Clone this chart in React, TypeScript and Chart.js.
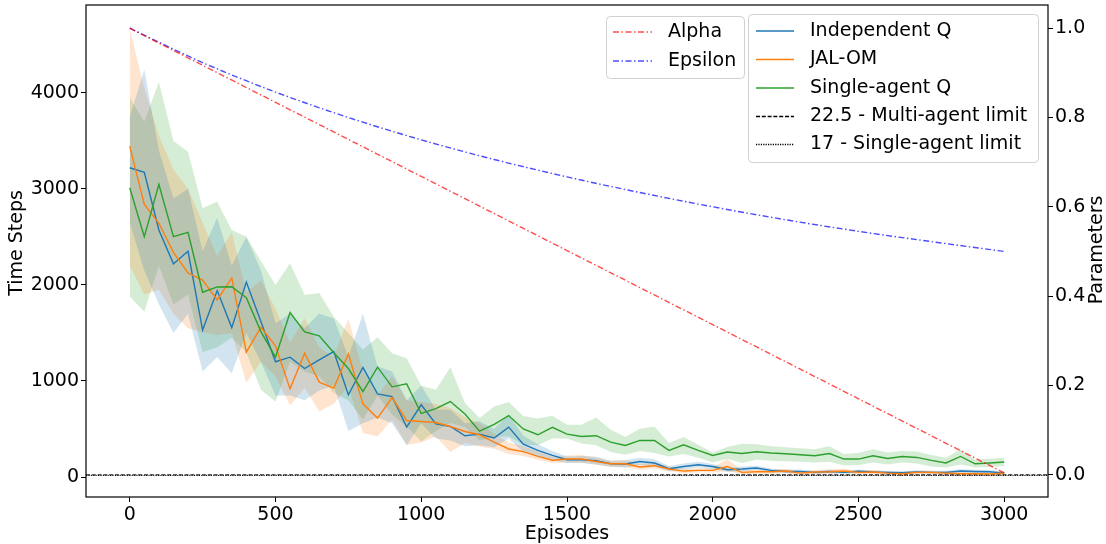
import React, { useEffect, useRef } from 'react';
import { Chart, registerables } from 'chart.js';

Chart.register(...registerables);

const FONT = '"DejaVu Sans", sans-serif';

// Episodes (x categories), one point every 50 episodes
const EPISODES: number[] = Array.from({ length: 61 }, (_, i) => i * 50);

const X_TICKS = [0, 500, 1000, 1500, 2000, 2500, 3000];
const Y_TICKS = [0, 1000, 2000, 3000, 4000];
const Y1_TICKS = [0, 0.2, 0.4, 0.6, 0.8, 1.0];

// Independent Q
const IQ_MEAN = [
  3220, 3172, 2572, 2220, 2350, 1530, 1941, 1556, 2030, 1620,
  1200, 1248, 1130, 1220, 1306, 856, 1140, 866, 838, 520,
  752, 554, 526, 430, 447, 406, 520, 343, 277, 225,
  180, 180, 170, 138, 135, 162, 146, 86, 110, 128,
  110, 76, 83, 94, 69, 58, 59, 48, 58, 48,
  60, 52, 48, 45, 52, 48, 48, 62, 58, 55, 41,
];
const IQ_UPPER = [
  3750, 4240, 3400, 2900, 3000, 2350, 2700, 2200, 2500, 2150,
  1600, 1700, 1550, 1700, 1650, 1250, 1700, 1150, 1100, 800,
  950, 700, 700, 560, 580, 500, 650, 430, 340, 270,
  215, 220, 210, 170, 175, 200, 185, 115, 140, 160,
  135, 100, 110, 118, 88, 75, 78, 64, 75, 64,
  78, 68, 64, 60, 68, 63, 65, 80, 75, 72, 56,
];
const IQ_LOWER = [
  2650, 2150, 1800, 1500, 1700, 1100, 1250, 1080, 1500, 1200,
  850, 850, 800, 900, 950, 480, 560, 620, 560, 330,
  560, 400, 380, 320, 330, 310, 400, 260, 215, 175,
  145, 145, 130, 108, 100, 125, 110, 60, 82, 98,
  85, 55, 60, 72, 52, 42, 42, 34, 42, 34,
  44, 38, 34, 32, 38, 34, 33, 46, 42, 40, 28,
];

// JAL-OM
const JAL_MEAN = [
  3445, 2839, 2642, 2340, 2125, 2050, 1844, 2073, 1300, 1560,
  1366, 918, 1290, 988, 926, 1282, 762, 614, 828, 589,
  578, 568, 526, 474, 440, 364, 292, 265, 215, 175,
  187, 187, 162, 138, 138, 104, 118, 83, 62, 69,
  69, 110, 48, 55, 55, 62, 41, 52, 55, 62,
  48, 52, 41, 34, 48, 48, 41, 34, 34, 31, 41,
];
const JAL_UPPER = [
  4670, 4050, 3550, 3200, 3000, 2650, 2300, 2550, 1920, 2050,
  1750, 1400, 1650, 1350, 1250, 1650, 1100, 850, 1050, 800,
  780, 760, 720, 620, 560, 450, 360, 320, 265, 210,
  225, 230, 200, 170, 175, 135, 150, 108, 85, 92,
  95, 190, 68, 75, 75, 85, 60, 72, 78, 88,
  68, 72, 60, 52, 68, 68, 60, 52, 52, 48, 60,
];
const JAL_LOWER = [
  2200, 1900, 1950, 1700, 1550, 1510, 1480, 1500, 980, 1200,
  1050, 745, 930, 682, 762, 950, 458, 422, 596, 336,
  360, 422, 260, 354, 318, 294, 240, 220, 180, 146,
  150, 150, 128, 108, 105, 75, 88, 60, 42, 48,
  46, 60, 30, 36, 36, 40, 24, 34, 35, 38,
  30, 34, 24, 18, 30, 30, 24, 18, 18, 16, 24,
];

// Single-agent Q
const SQ_MEAN = [
  3012, 2502, 3047, 2502, 2548, 1924, 1979, 1982, 1867, 1514,
  1248, 1712, 1512, 1470, 1294, 1130, 890, 1144, 939, 970,
  662, 712, 786, 657, 478, 549, 640, 500, 440, 518,
  447, 422, 430, 364, 329, 381, 381, 277, 336, 277,
  225, 260, 245, 263, 250, 242, 232, 222, 245, 187,
  187, 222, 193, 214, 204, 173, 146, 214, 138, 146, 156,
];
const SQ_UPPER = [
  3950, 3700, 4114, 3500, 3386, 2800, 2866, 2572, 2502, 2250,
  2000, 2226, 1896, 1916, 1670, 1500, 1324, 1456, 1290, 1238,
  950, 908, 1144, 770, 614, 734, 780, 635, 610, 638,
  544, 545, 620, 492, 416, 502, 526, 354, 416, 336,
  256, 312, 346, 340, 320, 310, 300, 290, 320, 240,
  250, 290, 255, 270, 265, 230, 200, 290, 180, 190, 200,
];
const SQ_LOWER = [
  1880, 1722, 2200, 1800, 1900, 1300, 1350, 1450, 1300, 908,
  786, 1200, 1100, 1050, 874, 800, 600, 850, 650, 526,
  370, 480, 562, 520, 380, 420, 422, 336, 330, 400,
  400, 350, 330, 260, 232, 270, 250, 215, 240, 200,
  152, 190, 146, 180, 170, 165, 160, 150, 160, 120,
  125, 150, 130, 150, 140, 110, 100, 130, 100, 105, 115,
];

// Parameters (right axis)
const PARAM_EPISODES = [0, 250, 500, 750, 1000, 1250, 1500, 1750, 2000, 2250, 2500, 2750, 3000];
const ALPHA = [1.0, 0.917, 0.834, 0.751, 0.668, 0.585, 0.502, 0.419, 0.336, 0.253, 0.17, 0.087, 0.004];
const EPSILON = [1.0, 0.923, 0.857, 0.8, 0.75, 0.706, 0.667, 0.632, 0.6, 0.571, 0.545, 0.522, 0.5];

const MULTI_LIMIT = 22.5;
const SINGLE_LIMIT = 17;

const C_BLUE = '#1f77b4';
const C_ORANGE = '#ff7f0e';
const C_GREEN = '#2ca02c';
const C_ALPHA = 'rgba(255,0,0,0.7)';
const C_EPS = 'rgba(0,0,255,0.7)';
const DASHDOT = [6, 2.5, 1.5, 2.5];
const DASHED = [4, 1.8];
const DOTTED = [1.2, 1.2];

const legendPlugin = {
  id: 'customDecor',
  afterDraw(chart: any) {
    const ctx = chart.ctx;
    const a = chart.chartArea;
    ctx.save();
    // frame
    ctx.setLineDash([]);
    ctx.strokeStyle = '#000';
    ctx.lineWidth = 1.2;
    ctx.strokeRect(a.left, a.top, a.right - a.left, a.bottom - a.top);

    // axis titles
    ctx.fillStyle = '#000';
    ctx.font = `19px ${FONT}`;
    ctx.textAlign = 'center';
    ctx.textBaseline = 'middle';
    ctx.fillText('Episodes', (a.left + a.right) / 2, 534);
    ctx.save();
    ctx.translate(17, 243);
    ctx.rotate(-Math.PI / 2);
    ctx.fillText('Time Steps', 0, 0);
    ctx.restore();
    ctx.save();
    ctx.translate(1097, 250);
    ctx.rotate(-Math.PI / 2);
    ctx.fillText('Parameters', 0, 0);
    ctx.restore();

    const box = (x: number, y: number, w: number, h: number) => {
      const r = 4;
      ctx.beginPath();
      ctx.moveTo(x + r, y);
      ctx.lineTo(x + w - r, y);
      ctx.quadraticCurveTo(x + w, y, x + w, y + r);
      ctx.lineTo(x + w, y + h - r);
      ctx.quadraticCurveTo(x + w, y + h, x + w - r, y + h);
      ctx.lineTo(x + r, y + h);
      ctx.quadraticCurveTo(x, y + h, x, y + h - r);
      ctx.lineTo(x, y + r);
      ctx.quadraticCurveTo(x, y, x + r, y);
      ctx.closePath();
      ctx.fillStyle = 'rgba(255,255,255,0.8)';
      ctx.fill();
      ctx.setLineDash([]);
      ctx.strokeStyle = 'rgba(204,204,204,0.9)';
      ctx.lineWidth = 1;
      ctx.stroke();
    };
    const entry = (x1: number, x2: number, tx: number, y: number, color: string, dash: number[], label: string) => {
      ctx.beginPath();
      ctx.setLineDash(dash);
      ctx.strokeStyle = color;
      ctx.lineWidth = 1.4;
      ctx.moveTo(x1, y);
      ctx.lineTo(x2, y);
      ctx.stroke();
      ctx.setLineDash([]);
      ctx.fillStyle = '#000';
      ctx.font = `19px ${FONT}`;
      ctx.textAlign = 'left';
      ctx.textBaseline = 'middle';
      ctx.fillText(label, tx, y);
    };

    box(606.5, 16.5, 138, 62);
    entry(613, 652, 668, 32, C_ALPHA, DASHDOT, 'Alpha');
    entry(613, 652, 668, 61, C_EPS, DASHDOT, 'Epsilon');

    box(748.5, 14.5, 290, 148);
    entry(756, 794, 810, 31, C_BLUE, [], 'Independent Q');
    entry(756, 794, 810, 59.5, C_ORANGE, [], 'JAL-OM');
    entry(756, 794, 810, 88, C_GREEN, [], 'Single-agent Q');
    entry(756, 794, 810, 116.5, '#000', DASHED, '22.5 - Multi-agent limit');
    entry(756, 794, 810, 144.5, '#000', DOTTED, '17 - Single-agent limit');
    ctx.restore();
  },
};

function pts(xs: number[], vals: number[]) {
  return xs.map((x, i) => ({ x, y: vals[i] }));
}

function band(vals: number[], color: string, fill: string | false, order: number) {
  return {
    data: pts(EPISODES, vals),
    yAxisID: 'y',
    borderWidth: 0,
    borderColor: 'rgba(0,0,0,0)',
    backgroundColor: color,
    pointRadius: 0,
    fill,
    order,
    tension: 0,
  };
}

function line(vals: number[], color: string, order: number) {
  return {
    data: pts(EPISODES, vals),
    yAxisID: 'y',
    borderWidth: 1.4,
    borderColor: color,
    pointRadius: 0,
    fill: false,
    order,
    tension: 0,
  };
}

export default function App() {
  const ref = useRef<HTMLCanvasElement>(null);

  useEffect(() => {
    if (!ref.current) return;
    const tickFont = { family: FONT, size: 19 };
    const datasets: any[] = [
      band(IQ_UPPER, 'rgba(31,119,180,0.2)', false, 10),
      band(IQ_LOWER, 'rgba(31,119,180,0.2)', '-1', 10),
      band(JAL_UPPER, 'rgba(255,127,14,0.2)', false, 10),
      band(JAL_LOWER, 'rgba(255,127,14,0.2)', '-1', 10),
      band(SQ_UPPER, 'rgba(44,160,44,0.2)', false, 10),
      band(SQ_LOWER, 'rgba(44,160,44,0.2)', '-1', 10),
      line(SQ_MEAN, C_GREEN, 3),
      line(JAL_MEAN, C_ORANGE, 4),
      line(IQ_MEAN, C_BLUE, 5),
      {
        data: [{ x: -150, y: MULTI_LIMIT }, { x: 3150, y: MULTI_LIMIT }],
        yAxisID: 'y', borderColor: '#000', borderWidth: 1, borderDash: DASHED,
        pointRadius: 0, fill: false, order: 6,
      },
      {
        data: [{ x: -150, y: SINGLE_LIMIT }, { x: 3150, y: SINGLE_LIMIT }],
        yAxisID: 'y', borderColor: '#000', borderWidth: 1, borderDash: DOTTED,
        pointRadius: 0, fill: false, order: 6,
      },
      {
        data: pts(PARAM_EPISODES, ALPHA),
        yAxisID: 'y1', borderColor: C_ALPHA, borderWidth: 1.4, borderDash: DASHDOT,
        pointRadius: 0, fill: false, order: 1,
      },
      {
        data: pts(PARAM_EPISODES, EPSILON),
        yAxisID: 'y1', borderColor: C_EPS, borderWidth: 1.4, borderDash: DASHDOT,
        pointRadius: 0, fill: false, order: 2, cubicInterpolationMode: 'monotone',
      },
    ];

    const chart = new Chart(ref.current, {
      type: 'line',
      data: { datasets },
      options: {
        animation: false,
        responsive: false,
        devicePixelRatio: 1,
        layout: { padding: { top: 5, left: 0, right: 0, bottom: 0 } },
        plugins: {
          legend: { display: false },
          tooltip: { enabled: false },
          filler: { drawTime: 'beforeDatasetsDraw', propagate: false },
        },
        scales: {
          x: {
            type: 'linear',
            min: -150,
            max: 3150,
            afterBuildTicks: (s: any) => { s.ticks = X_TICKS.map((v) => ({ value: v })); },
            afterFit: (s: any) => { s.height = 47; s.paddingLeft = 0; s.paddingRight = 0; },
            ticks: { font: tickFont, color: '#000', padding: 2, maxRotation: 0, autoSkip: false, callback: (v: any) => String(v) },
            grid: { display: true, drawOnChartArea: false, drawTicks: true, tickLength: 5, color: '#000', lineWidth: 1 },
            border: { display: false },
          },
          y: {
            type: 'linear',
            position: 'left',
            min: -208,
            max: 4915,
            afterBuildTicks: (s: any) => { s.ticks = Y_TICKS.map((v) => ({ value: v })); },
            afterFit: (s: any) => { s.width = 86; s.paddingTop = 0; s.paddingBottom = 0; },
            ticks: { font: tickFont, color: '#000', padding: 2, autoSkip: false, callback: (v: any) => String(v) },
            grid: { display: true, drawOnChartArea: false, drawTicks: true, tickLength: 5, color: '#000', lineWidth: 1 },
            border: { display: false },
          },
          y1: {
            type: 'linear',
            position: 'right',
            min: -0.05,
            max: 1.052,
            afterBuildTicks: (s: any) => { s.ticks = Y1_TICKS.map((v) => ({ value: v })); },
            afterFit: (s: any) => { s.width = 58; s.paddingTop = 0; s.paddingBottom = 0; },
            ticks: { font: tickFont, color: '#000', padding: 2, autoSkip: false, callback: (v: any) => Number(v).toFixed(1) },
            grid: { display: true, drawOnChartArea: false, drawTicks: true, tickLength: 5, color: '#000', lineWidth: 1 },
            border: { display: false },
          },
        },
      } as any,
      plugins: [legendPlugin],
    });
    return () => chart.destroy();
  }, []);

  return (
    <div style={{ position: 'fixed', left: 0, top: 0, width: 1106, height: 544, background: '#fff' }}>
      <canvas ref={ref} width={1106} height={544} style={{ display: 'block', width: 1106, height: 544 }} />
    </div>
  );
}
